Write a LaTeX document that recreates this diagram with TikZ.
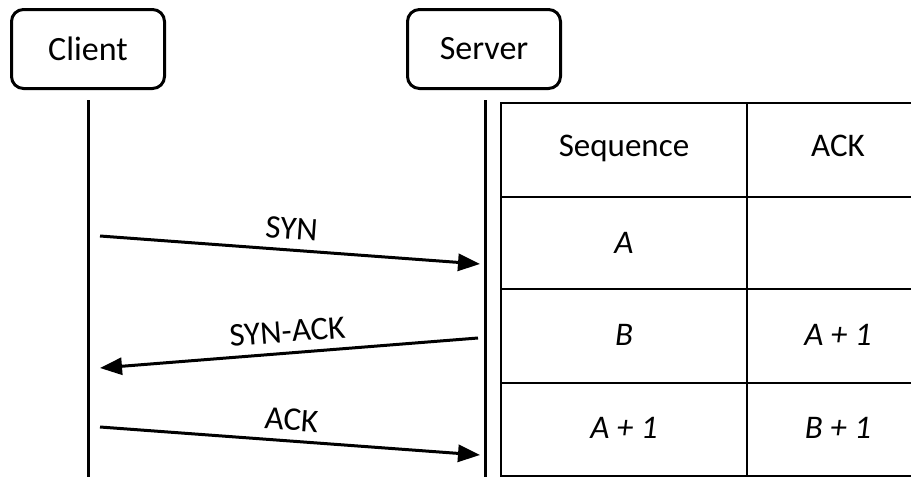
\documentclass[tikz,border=0pt]{standalone}
\usepackage{fontspec}
\setmainfont{Carlito}
\usetikzlibrary{arrows.meta,positioning}

\begin{document}
\begin{tikzpicture}[x=1pt,y=-1pt]
            \tikzstyle{every node}+=[inner sep=0pt]
            \tikzstyle{party}=[draw, line width=3pt, rounded corners=12pt, minimum width=153pt, minimum height=79pt, font=\fontsize{34}{40}\selectfont]
            \tikzstyle{life}=[line width=3pt]
            \tikzstyle{msg}=[line width=3pt, -{Triangle[length=22pt,width=17pt]}]
            \tikzstyle{msglabel}=[midway, sloped, above=9pt, font=\fontsize{33}{40}\selectfont]
            \tikzstyle{grid}=[line width=2pt]
            \tikzstyle{cell}=[font=\fontsize{33}{38}\selectfont, text height=21pt, text depth=0pt]
            \useasboundingbox (0,0) rectangle (911,477);
            % parties and lifelines
            \node [party] (client) at (88,49) {Client};
            \node [party] (server) at (484,49) {Server};
            \coordinate (client top) at (88,100);
            \coordinate (client end) at (88,477);
            \coordinate (server top) at (485,100);
            \coordinate (server end) at (485,477);
            \draw [life] (client top) -- (client end);
            \draw [life] (server top) -- (server end);
            % handshake
            \coordinate (syn a) at (100,236);
            \coordinate (syn b) at (480,264);
            \coordinate (synack a) at (478,338);
            \coordinate (synack b) at (100,368);
            \coordinate (ack a) at (100,427);
            \coordinate (ack b) at (480,455);
            \draw [msg] (syn a) -- (syn b) node [msglabel] (syn) {SYN};
            \draw [msg] (synack a) -- (synack b) node [msglabel] (synack) {SYN-ACK};
            \draw [msg] (ack a) -- (ack b) node [msglabel] (ack) {ACK};
            % table
            \draw [grid] (930,103) -- (501,103) -- (501,477);
            \draw [grid] (747,103) -- (747,477);
            \draw [grid] (501,197) -- (930,197);
            \draw [grid] (501,289) -- (930,289);
            \draw [grid] (501,383) -- (930,383);
            \draw [grid] (501,476) -- (930,476);
            \node [cell] (seq head) at (624,146) {Sequence};
            \node [cell] (ack head) at (838,146) {ACK};
            \node [cell] (seq 1) at (624,243) {\itshape A};
            \node [cell] (seq 2) at (624,335) {\itshape B};
            \node [cell] (ack 2) at (838,335) {\itshape A + 1};
            \node [cell] (seq 3) at (624,428) {\itshape A + 1};
            \node [cell] (ack 3) at (838,428) {\itshape B + 1};
\end{tikzpicture}
\end{document}
